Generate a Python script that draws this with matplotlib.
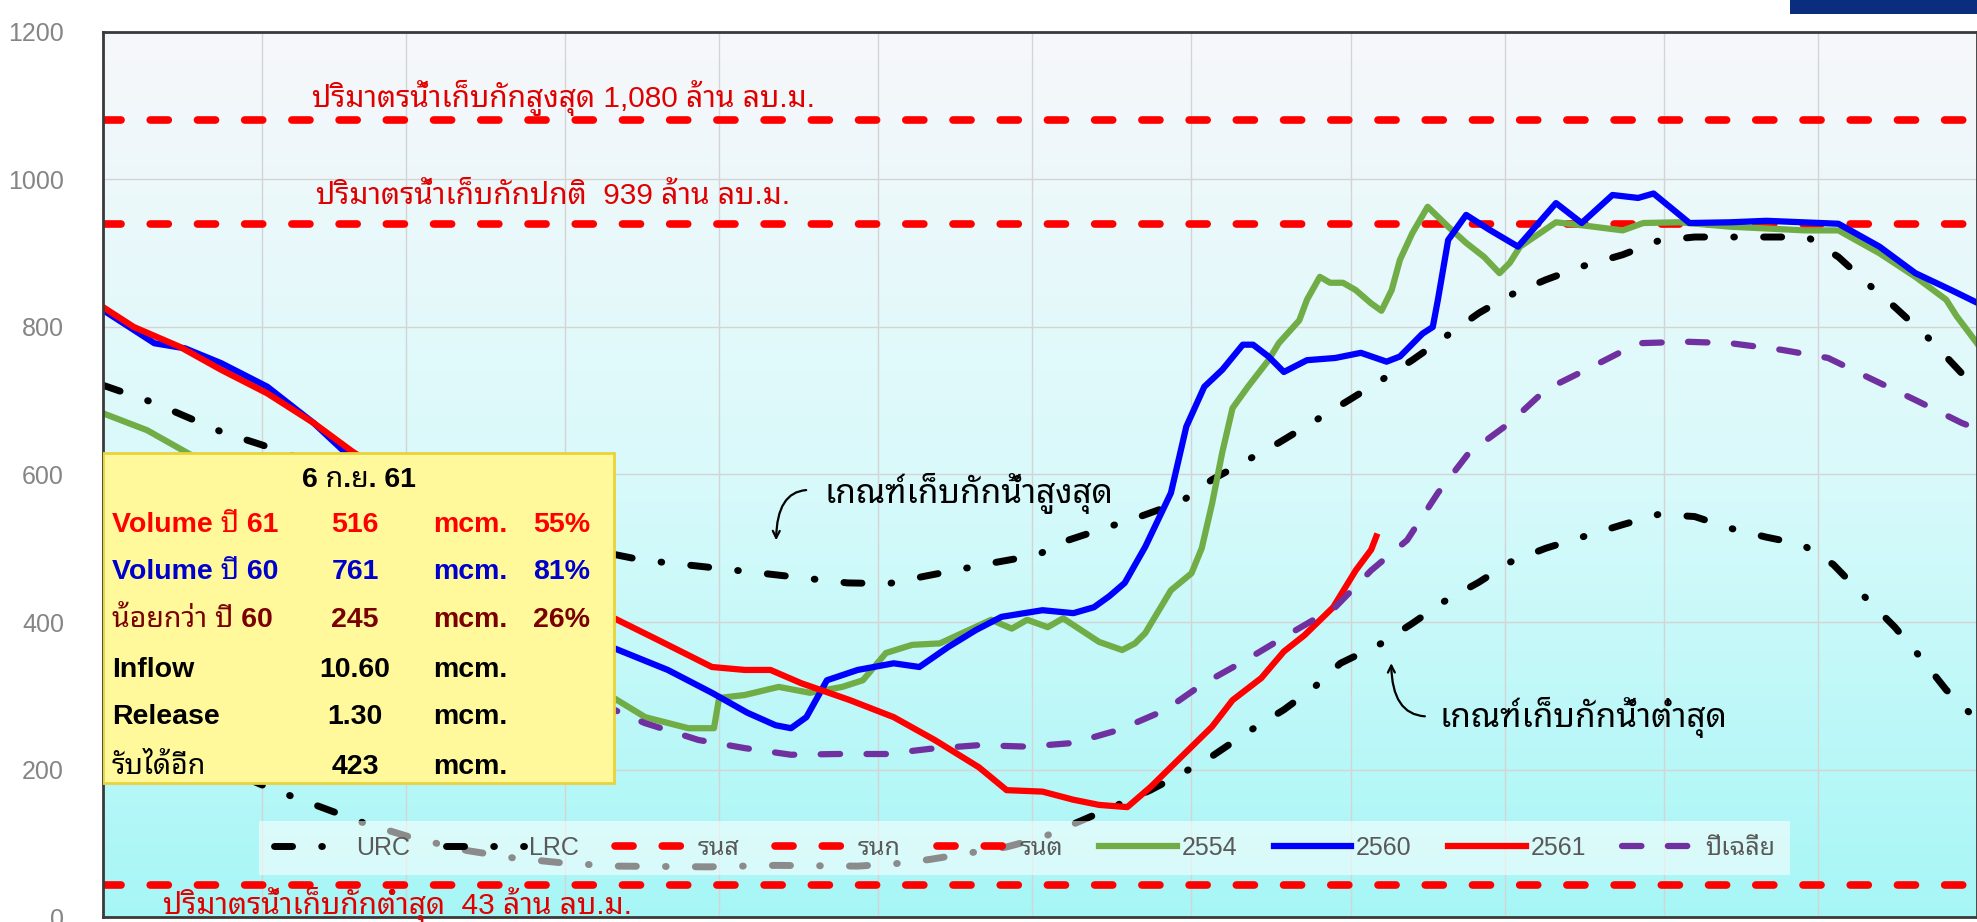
import numpy as np
import matplotlib
matplotlib.use("Agg")
import matplotlib.pyplot as plt
from matplotlib import font_manager
from matplotlib.colors import LinearSegmentedColormap
from matplotlib.patches import Rectangle

# ---- data (day of year, million m3) ----
MONTH_STARTS = [0, 31, 59, 90, 120, 151, 181, 212, 243, 273, 304, 334, 365]
YTICKS = [0, 200, 400, 600, 800, 1000, 1200]

URC_DAY = [0, 10, 23, 31, 45, 60, 75, 90, 105, 117, 131, 145, 153, 160, 174, 182, 188, 202,
           210, 216, 229, 242, 249, 255, 268, 274, 281, 288, 296, 303, 310, 324, 332, 338,
           344, 349, 356, 365]
URC_VAL = [721, 697, 658, 640, 605, 567, 533, 505, 484, 475, 464, 453, 452, 462, 481, 491, 511, 543,
           563, 593, 643, 698, 728, 755, 819, 843, 864, 882, 898, 917, 922, 922, 922, 895,
           857, 827, 782, 715]

LRC_DAY = [0, 10, 20, 32, 44, 51, 60, 71, 80, 90, 100, 118, 131, 147, 154, 161, 168, 176, 183,
           190, 197, 204, 210, 216, 223, 230, 236, 241, 249, 255, 261, 268, 274, 281, 288, 296,
           303, 310, 317, 324, 331, 337, 343, 349, 354, 359, 365]
LRC_VAL = [267, 243, 212, 176, 145, 127, 108, 90, 80, 73, 69, 68, 70, 69, 72, 78, 86, 95, 108,
           129, 150, 172, 194, 218, 251, 281, 312, 344, 371, 398, 427, 454, 481, 500, 515, 532,
           546, 543, 527, 515, 505, 478, 435, 393, 352, 308, 267]

RNS = 1080
RNK = 939
RNT = 43

Y2554_DAY = [0, 8.6, 16, 30, 45, 60, 75, 90, 99, 105.6, 114, 119, 120, 125, 131.6, 137.7, 144, 148,
             152.5, 157.6, 163, 168, 173, 177, 180, 184, 187, 194, 198.5, 201, 203, 208, 212, 214,
             216, 218, 220, 223, 227, 229, 233, 234.5, 237, 239, 241.5, 244, 247, 249, 251, 252.6,
             255, 258, 262, 265.5, 269, 272, 274, 276, 283, 288, 296, 300, 307, 317, 331.5, 338,
             346, 353, 359, 361, 365]
Y2554_VAL = [683, 660, 631, 575, 510, 440, 375, 325, 299, 271, 256, 256, 297, 301, 312, 304, 312, 321,
             358, 369, 371, 387, 403, 391, 403, 393, 405, 373, 362, 371, 385, 443, 466, 500,
             560, 630, 690, 719, 755, 778, 809, 837, 868, 860, 860, 850, 832, 822, 850, 891,
             927, 963, 936, 914, 895, 873, 887, 909, 942, 938, 931, 941, 942, 936, 931, 931,
             900, 868, 837, 815, 778]

Y2560_DAY = [0, 10, 16, 23, 32, 41, 47, 60, 75, 90, 99, 110, 118.6, 125.5, 131, 134, 137, 141, 147,
             154, 159, 164.6, 170, 175, 183, 189, 193, 196, 199, 203, 208, 211, 214.5, 218, 222,
             224, 227, 230, 234.5, 240, 245, 250, 252.6, 257, 259, 260, 262, 265.5, 270, 275.6,
             283, 288, 294, 299, 302, 309, 317, 324, 338, 346, 353, 360, 365]
Y2560_VAL = [823, 778, 771, 751, 719, 670, 631, 560, 480, 405, 366, 335, 304, 277, 260, 256, 271, 321, 335,
             344, 339, 366, 389, 407, 416, 412, 420, 435, 453, 502, 575, 665, 719, 742, 776,
             776, 760, 739, 755, 758, 765, 753, 760, 791, 800, 837, 918, 952, 932, 909,
             968, 941, 979, 975, 981, 941, 942, 944, 940, 909, 873, 850, 833]

Y2561_DAY = [0, 6, 15, 23, 32, 41, 48.6, 60, 75, 90, 99, 108, 118.6, 125, 130, 136, 145.5, 154, 162,
             170.6, 176, 183, 189, 194, 199.5, 204, 210, 216, 220, 225.6, 230, 234, 239.6, 244,
             247, 248]
Y2561_VAL = [827, 800, 773, 742, 710, 670, 631, 580, 515, 448, 407, 376, 339, 335, 335, 317, 294, 271, 240,
             203, 172, 170, 159, 152, 149, 176, 217, 258, 294, 324, 360, 382, 420, 470,
             498, 516]

AVG_DAY = [0, 30, 60, 90, 105.5, 116, 125, 134, 143, 152.5, 161, 170.6, 180, 189, 198, 207, 214, 223,
           231.6, 240, 247, 254, 260, 266, 274, 281, 290, 299, 308.5, 317, 327, 336, 344, 353,
           362, 365]
AVG_VAL = [610, 500, 400, 310, 263, 240, 229, 220, 221, 221, 228, 233, 231, 236, 254, 281, 315, 350,
           386, 420, 470, 511, 575, 629, 670, 715, 746, 778, 780, 778, 769, 758, 731, 701,
           670, 662]

LEGEND_LABELS = ["URC", "LRC", "รนส", "รนก", "รนต", "2554", "2560", "2561", "ปีเฉลี่ย"]

BOX_DATE = "6 ก.ย. 61"
BOX_LABELS = ["Volume ปี 61", "Volume ปี 60", "น้อยกว่า ปี 60", "Inflow", "Release", "รับได้อีก"]
BOX_VALUES = ["516", "761", "245", "10.60", "1.30", "423"]
BOX_UNITS = ["mcm.", "mcm.", "mcm.", "mcm.", "mcm.", "mcm."]
BOX_PCT = ["55%", "81%", "26%", "", "", ""]
BOX_COLORS = ["#ff0000", "#0000cc", "#7a0000", "black", "black", "black"]

LEVEL_TEXT = ["ปริมาตรน้ำเก็บกักสูงสุด 1,080 ล้าน ลบ.ม.",
              "ปริมาตรน้ำเก็บกักปกติ  939 ล้าน ลบ.ม.",
              "ปริมาตรน้ำเก็บกักต่ำสุด  43 ล้าน ลบ.ม."]
URC_NOTE = "เกณฑ์เก็บกักน้ำสูงสุด"
LRC_NOTE = "เกณฑ์เก็บกักน้ำต่ำสุด"

# ---- fonts ----
names = set(f.name for f in font_manager.fontManager.ttflist)
THAI = next((n for n in ["Noto Sans Thai Looped", "Loma", "Noto Sans Thai"] if n in names), "DejaVu Sans")
FAM = ["Liberation Sans", THAI, "DejaVu Sans"]

plt.rcParams["font.family"] = FAM
plt.rcParams["lines.scale_dashes"] = False

fig = plt.figure(figsize=(19.77, 9.22), dpi=100)
ax = fig.add_axes([103 / 1977, 5 / 922, 1874 / 1977, 885 / 922])

# background gradient
grad_cmap = LinearSegmentedColormap.from_list("bg", ["#a7f6f6", "#d9fafb", "#f7f7fa"])
ax.imshow(np.linspace(0, 1, 256).reshape(-1, 1)[::-1], cmap=grad_cmap, aspect="auto",
          extent=[0, 365, 0, 1200], zorder=0)

DASHDOT = (0, (13, 21, 0.5, 21))
RDASH = (0, (13, 21))
PDASH = (0, (14, 19))

ax.plot(URC_DAY, URC_VAL, color="black", lw=5, ls=DASHDOT, dash_capstyle="round", label=LEGEND_LABELS[0])
ax.plot(LRC_DAY, LRC_VAL, color="black", lw=5, ls=DASHDOT, dash_capstyle="round", label=LEGEND_LABELS[1])
for lvl, lab in zip([RNS, RNK, RNT], LEGEND_LABELS[2:5]):
    ax.plot([0, 365], [lvl, lvl], color="#ff0000", lw=5.5, ls=RDASH, dash_capstyle="round", label=lab)
ax.plot(Y2554_DAY, Y2554_VAL, color="#70ad47", lw=4.5, label=LEGEND_LABELS[5])
ax.plot(Y2560_DAY, Y2560_VAL, color="#0000ff", lw=4.5, label=LEGEND_LABELS[6])
ax.plot(Y2561_DAY, Y2561_VAL, color="#ff0000", lw=4.5, label=LEGEND_LABELS[7])
ax.plot(AVG_DAY, AVG_VAL, color="#7030a0", lw=4.5, ls=PDASH, dash_capstyle="round", label=LEGEND_LABELS[8])

ax.set_xlim(0, 365)
ax.set_ylim(0, 1200)
ax.set_xticks(MONTH_STARTS)
ax.set_xticklabels([])
ax.set_yticks(YTICKS)
ax.set_yticklabels([str(v) for v in YTICKS], fontsize=18, color="#858585", family="Liberation Sans")
ax.tick_params(length=0, pad=28)
ax.set_axisbelow(True)
ax.grid(True, color="#d4d4d4", lw=1)
for side in ["top", "left", "bottom", "right"]:
    ax.spines[side].set_color("#3a3a3a")
    ax.spines[side].set_linewidth(2)

leg = ax.legend(ncol=9, loc="lower left", bbox_to_anchor=(0.083, 0.048), fontsize=18,
                frameon=True, framealpha=0.55, facecolor="white", edgecolor="none",
                handlelength=3.1, handletextpad=0.2, columnspacing=1.45, borderpad=0.6,
                borderaxespad=0, fancybox=False)
for t in leg.get_texts():
    t.set_color("#595959")
leg.set_zorder(6)

# info box
ax.add_patch(Rectangle((0.0, 0.1514), 0.2727, 0.3729, transform=ax.transAxes,
                       facecolor="#fff99c", edgecolor="#e9d23a", lw=2, zorder=7))
ax.text(0.1366, 0.4938, BOX_DATE, transform=ax.transAxes, ha="center", va="center",
        fontsize=20.5, fontweight="bold", color="black", zorder=8)
row_y = [0.4429, 0.3898, 0.3356, 0.2791, 0.2260, 0.1695]
for y, lab, val, unit, pct, c in zip(row_y, BOX_LABELS, BOX_VALUES, BOX_UNITS, BOX_PCT, BOX_COLORS):
    kw = dict(transform=ax.transAxes, va="center", fontsize=20.5, fontweight="bold", color=c, zorder=8)
    ax.text(0.0048, y, lab, ha="left", **kw)
    ax.text(0.1345, y, val, ha="center", **kw)
    ax.text(0.1761, y, unit, ha="left", **kw)
    ax.text(0.2295, y, pct, ha="left", **kw)

# level labels
for (d, v), txt in zip([(40.7, 1110), (41.5, 977), (11.7, 16)], LEVEL_TEXT):
    ax.text(d, v, txt, color="#e00000", fontsize=21.5, va="center", ha="left", zorder=8)

# rule curve notes
ax.text(140.6, 575, URC_NOTE, fontsize=24, va="center", ha="left", color="black", zorder=8)
ax.annotate("", xy=(131.1, 507), xytext=(137.5, 579),
            arrowprops=dict(arrowstyle="->,head_length=0.5,head_width=0.25", color="black", lw=1.6,
                            connectionstyle="angle3,angleA=0,angleB=90"), zorder=8)
ax.text(260.4, 271, LRC_NOTE, fontsize=24, va="center", ha="left", color="black", zorder=8)
ax.annotate("", xy=(250.9, 348), xytext=(258, 272),
            arrowprops=dict(arrowstyle="->,head_length=0.5,head_width=0.25", color="black", lw=1.6,
                            connectionstyle="angle3,angleA=0,angleB=90"), zorder=8)

# top-right corner block
fig.patches.append(Rectangle((1790 / 1977, 1 - 14 / 922), 187 / 1977, 14 / 922,
                             transform=fig.transFigure, facecolor="#0b2d7e", edgecolor="none"))

fig.savefig("out.png", dpi=100)
